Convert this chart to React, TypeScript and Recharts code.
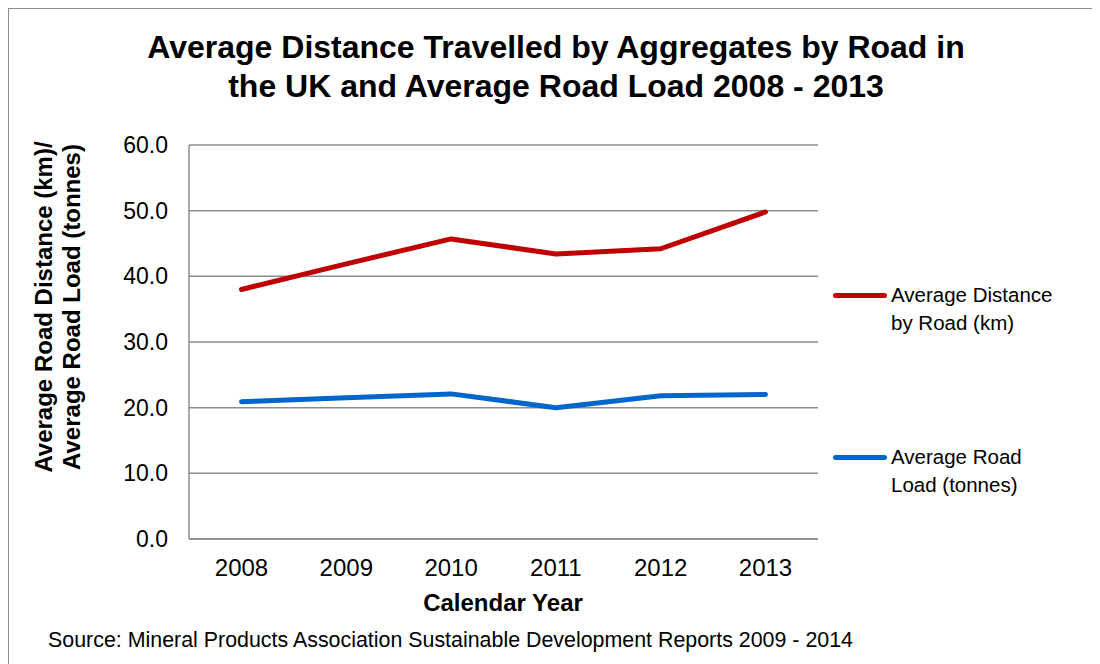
import React from 'react';
import { LineChart, Line, XAxis, YAxis, CartesianGrid } from 'recharts';

const years = ['2008', '2009', '2010', '2011', '2012', '2013'];
const distanceKm = [38.0, 41.9, 45.7, 43.4, 44.2, 49.8];
const roadLoadTonnes = [20.9, 21.5, 22.1, 20.0, 21.8, 22.0];
const yTicks = [0, 10, 20, 30, 40, 50, 60];

const series = [
  { key: 'distance', name: 'Average Distance by Road (km)', color: '#c00000' },
  { key: 'load', name: 'Average Road Load (tonnes)', color: '#0066cc' },
];

const data = years.map((year, i) => ({
  year,
  distance: distanceKm[i],
  load: roadLoadTonnes[i],
}));

const FONT = '"Liberation Sans", Arial, Helvetica, sans-serif';

const App: React.FC = () => {
  return (
    <div
      style={{
        position: 'relative',
        width: 1088,
        height: 680,
        border: '1px solid #8c8c8c',
        fontFamily: FONT,
        background: '#fff',
        color: '#000',
      }}
    >
      {/* Title */}
      <div
        style={{
          position: 'absolute',
          left: 47,
          top: 19,
          width: 1000,
          textAlign: 'center',
          fontSize: 32,
          fontWeight: 'bold',
          lineHeight: '39px',
        }}
      >
        Average Distance Travelled by Aggregates by Road in
        <br />
        the UK and Average Road Load 2008 - 2013
      </div>

      {/* Y axis title */}
      <div
        style={{
          position: 'absolute',
          left: 49 - 200,
          top: 298 - 28,
          width: 400,
          height: 56,
          transform: 'rotate(-90deg)',
          textAlign: 'center',
          fontSize: 24,
          fontWeight: 'bold',
          lineHeight: '28px',
        }}
      >
        Average Road Distance (km)/
        <br />
        Average Road Load (tonnes)
      </div>

      <div style={{ position: 'absolute', left: 0, top: 0 }}>
        <LineChart
          width={1090}
          height={640}
          data={data}
          margin={{ top: 136, right: 281, bottom: 80, left: 120 }}
        >
          <CartesianGrid vertical={false} stroke="#8c8c8c" strokeWidth={1.5} />
          <XAxis
            dataKey="year"
            padding={{ left: 52.5, right: 52.5 }}
            axisLine={{ stroke: '#8c8c8c', strokeWidth: 1.5 }}
            tickLine={false}
            tick={{ fill: '#000', fontSize: 24 }}
            tickMargin={14}
            height={30}
          />
          <YAxis
            domain={[0, 60]}
            ticks={yTicks}
            width={60}
            axisLine={{ stroke: '#8c8c8c', strokeWidth: 1.5 }}
            tickLine={false}
            tickFormatter={(v: number) => v.toFixed(1)}
            tick={{ fill: '#000', fontSize: 23 }}
            tickMargin={15}
          />
          {series.map((s) => (
            <Line
              key={s.key}
              type="linear"
              dataKey={s.key}
              name={s.name}
              stroke={s.color}
              strokeWidth={5}
              strokeLinecap="round"
              strokeLinejoin="round"
              dot={false}
              isAnimationActive={false}
            />
          ))}
        </LineChart>
      </div>

      {/* Legend */}
      <div style={{ position: 'absolute', left: 824, top: 272 }}>
        {series.map((s, index) => (
          <div
            key={s.key}
            style={{ display: 'flex', alignItems: 'flex-start', marginBottom: index === 0 ? 106 : 0 }}
          >
            <div
              style={{
                width: 54,
                height: 5,
                borderRadius: 3,
                background: s.color,
                marginTop: 11.5,
                marginRight: 4,
              }}
            />
            <div style={{ fontSize: 20.5, lineHeight: '28px', width: 180 }}>{s.name}</div>
          </div>
        ))}
      </div>

      {/* X axis title */}
      <div
        style={{
          position: 'absolute',
          left: 294,
          top: 580,
          width: 400,
          textAlign: 'center',
          fontSize: 24,
          fontWeight: 'bold',
          lineHeight: '28px',
        }}
      >
        Calendar Year
      </div>

      {/* Source */}
      <div style={{ position: 'absolute', left: 39, top: 619, fontSize: 21.4, lineHeight: '24px' }}>
        Source: Mineral Products Association Sustainable Development Reports 2009 - 2014
      </div>
    </div>
  );
};

export default App;
